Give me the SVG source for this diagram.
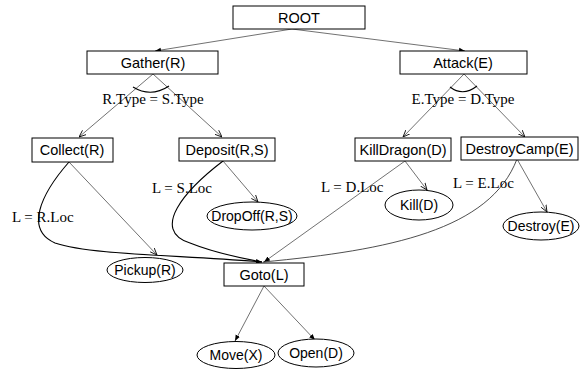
<svg xmlns="http://www.w3.org/2000/svg" width="581" height="370" viewBox="0 0 581 370">
<style>
.box{fill:#fff;stroke:#000;stroke-width:1}
.ell{fill:#fff;stroke:#000;stroke-width:1}
.t{font-family:"Liberation Sans",Arial,sans-serif;font-size:14.5px;text-anchor:middle;fill:#000}
.te{font-size:14px}
.s{font-family:"Liberation Serif","Times New Roman",serif;font-size:15px;fill:#000}
.e{fill:none;stroke:#333;stroke-width:0.7}
.c{fill:none;stroke:#000;stroke-width:1.1}
</style>
<defs>
<marker id="ah" viewBox="0 0 10 10" refX="10" refY="5" markerWidth="7" markerHeight="7" markerUnits="userSpaceOnUse" orient="auto">
<path d="M0,1 L10,5 L0,9" fill="none" stroke="#000" stroke-width="1.2"/>
</marker>
<marker id="af" viewBox="0 0 10 10" refX="10" refY="5" markerWidth="6" markerHeight="6" markerUnits="userSpaceOnUse" orient="auto">
<path d="M0,1 L10,5 L0,9 z" fill="#000"/>
</marker>
</defs>
<g id="connectors">
<line class="e" x1="292" y1="29" x2="155" y2="51" marker-end="url(#af)"/>
<line class="e" x1="292" y1="29" x2="465" y2="51" marker-end="url(#af)"/>
<line class="e" x1="153" y1="74" x2="79" y2="137" marker-end="url(#ah)"/>
<line class="e" x1="153" y1="74" x2="222" y2="137" marker-end="url(#ah)"/>
<line class="e" x1="464" y1="74" x2="403" y2="137" marker-end="url(#ah)"/>
<line class="e" x1="464" y1="74" x2="525" y2="137" marker-end="url(#ah)"/>
<path class="c" d="M133,87 Q151,98 169,86"/>
<path class="c" d="M450,87 Q463,97 477,86"/>
<line class="e" x1="69" y1="162" x2="157" y2="255" marker-end="url(#ah)"/>
<path class="c" d="M69,162 C40,195 25,230 55,243 C90,255 180,255 262,262" marker-end="url(#af)"/>
<line class="e" x1="223" y1="161" x2="258" y2="202" marker-end="url(#ah)"/>
<path class="c" d="M223,161 C185,190 150,230 190,243 C215,253 240,258 262,262"/>
<line class="e" x1="405" y1="161" x2="427" y2="190" marker-end="url(#ah)"/>
<line class="e" x1="405" y1="161" x2="264" y2="262" marker-end="url(#af)"/>
<line class="e" x1="517" y1="159" x2="547" y2="212" marker-end="url(#ah)"/>
<path class="e" d="M517,159 C490,230 390,250 263,262" style="stroke:#222;stroke-width:0.8"/>
<line class="e" x1="264" y1="286" x2="235" y2="341" marker-end="url(#af)"/>
<line class="e" x1="264" y1="286" x2="315" y2="340" marker-end="url(#af)"/>
</g>
<g id="labels">
<text class="s" x="153" y="104" text-anchor="middle">R.Type = S.Type</text>
<text class="s" x="463" y="104" text-anchor="middle">E.Type = D.Type</text>
<text class="s" x="12" y="222">L = R.Loc</text>
<text class="s" x="152" y="193">L = S.Loc</text>
<text class="s" x="321" y="192">L = D.Loc</text>
<text class="s" x="453" y="188">L = E.Loc</text>
</g>
<g id="root"><rect class="box" x="233" y="6" width="132" height="23"/><text class="t" x="299" y="23">ROOT</text></g>
<g id="gather"><rect class="box" x="87" y="51" width="131" height="23"/><text class="t" x="153" y="68">Gather(R)</text></g>
<g id="attack"><rect class="box" x="400" y="51" width="127" height="23"/><text class="t" x="463" y="68">Attack(E)</text></g>
<g id="collect"><rect class="box" x="32" y="138" width="81" height="24"/><text class="t" x="72" y="155">Collect(R)</text></g>
<g id="deposit"><rect class="box" x="179" y="138" width="96" height="23"/><text class="t" x="227" y="155">Deposit(R,S)</text></g>
<g id="killdragon"><rect class="box" x="355" y="138" width="96" height="23"/><text class="t" x="403" y="155">KillDragon(D)</text></g>
<g id="destroycamp"><rect class="box" x="461" y="137" width="117" height="23"/><text class="t" x="519.5" y="154">DestroyCamp(E)</text></g>
<g id="pickup"><ellipse class="ell" cx="145" cy="270" rx="38" ry="12.5"/><text class="t te" x="145" y="275">Pickup(R)</text></g>
<g id="dropoff"><ellipse class="ell" cx="252" cy="216" rx="45" ry="14"/><text class="t te" x="252" y="221">DropOff(R,S)</text></g>
<g id="kill"><ellipse class="ell" cx="419" cy="205" rx="34" ry="15"/><text class="t te" x="419" y="210">Kill(D)</text></g>
<g id="destroy"><ellipse class="ell" cx="541" cy="226" rx="38" ry="14"/><text class="t te" x="541" y="231">Destroy(E)</text></g>
<g id="goto"><rect class="box" x="224" y="263" width="80" height="23"/><text class="t" x="264" y="280">Goto(L)</text></g>
<g id="move"><ellipse class="ell" cx="236" cy="355" rx="39" ry="13.5"/><text class="t te" x="236" y="360">Move(X)</text></g>
<g id="open"><ellipse class="ell" cx="316" cy="353" rx="38" ry="14"/><text class="t te" x="316" y="358">Open(D)</text></g>
</svg>
